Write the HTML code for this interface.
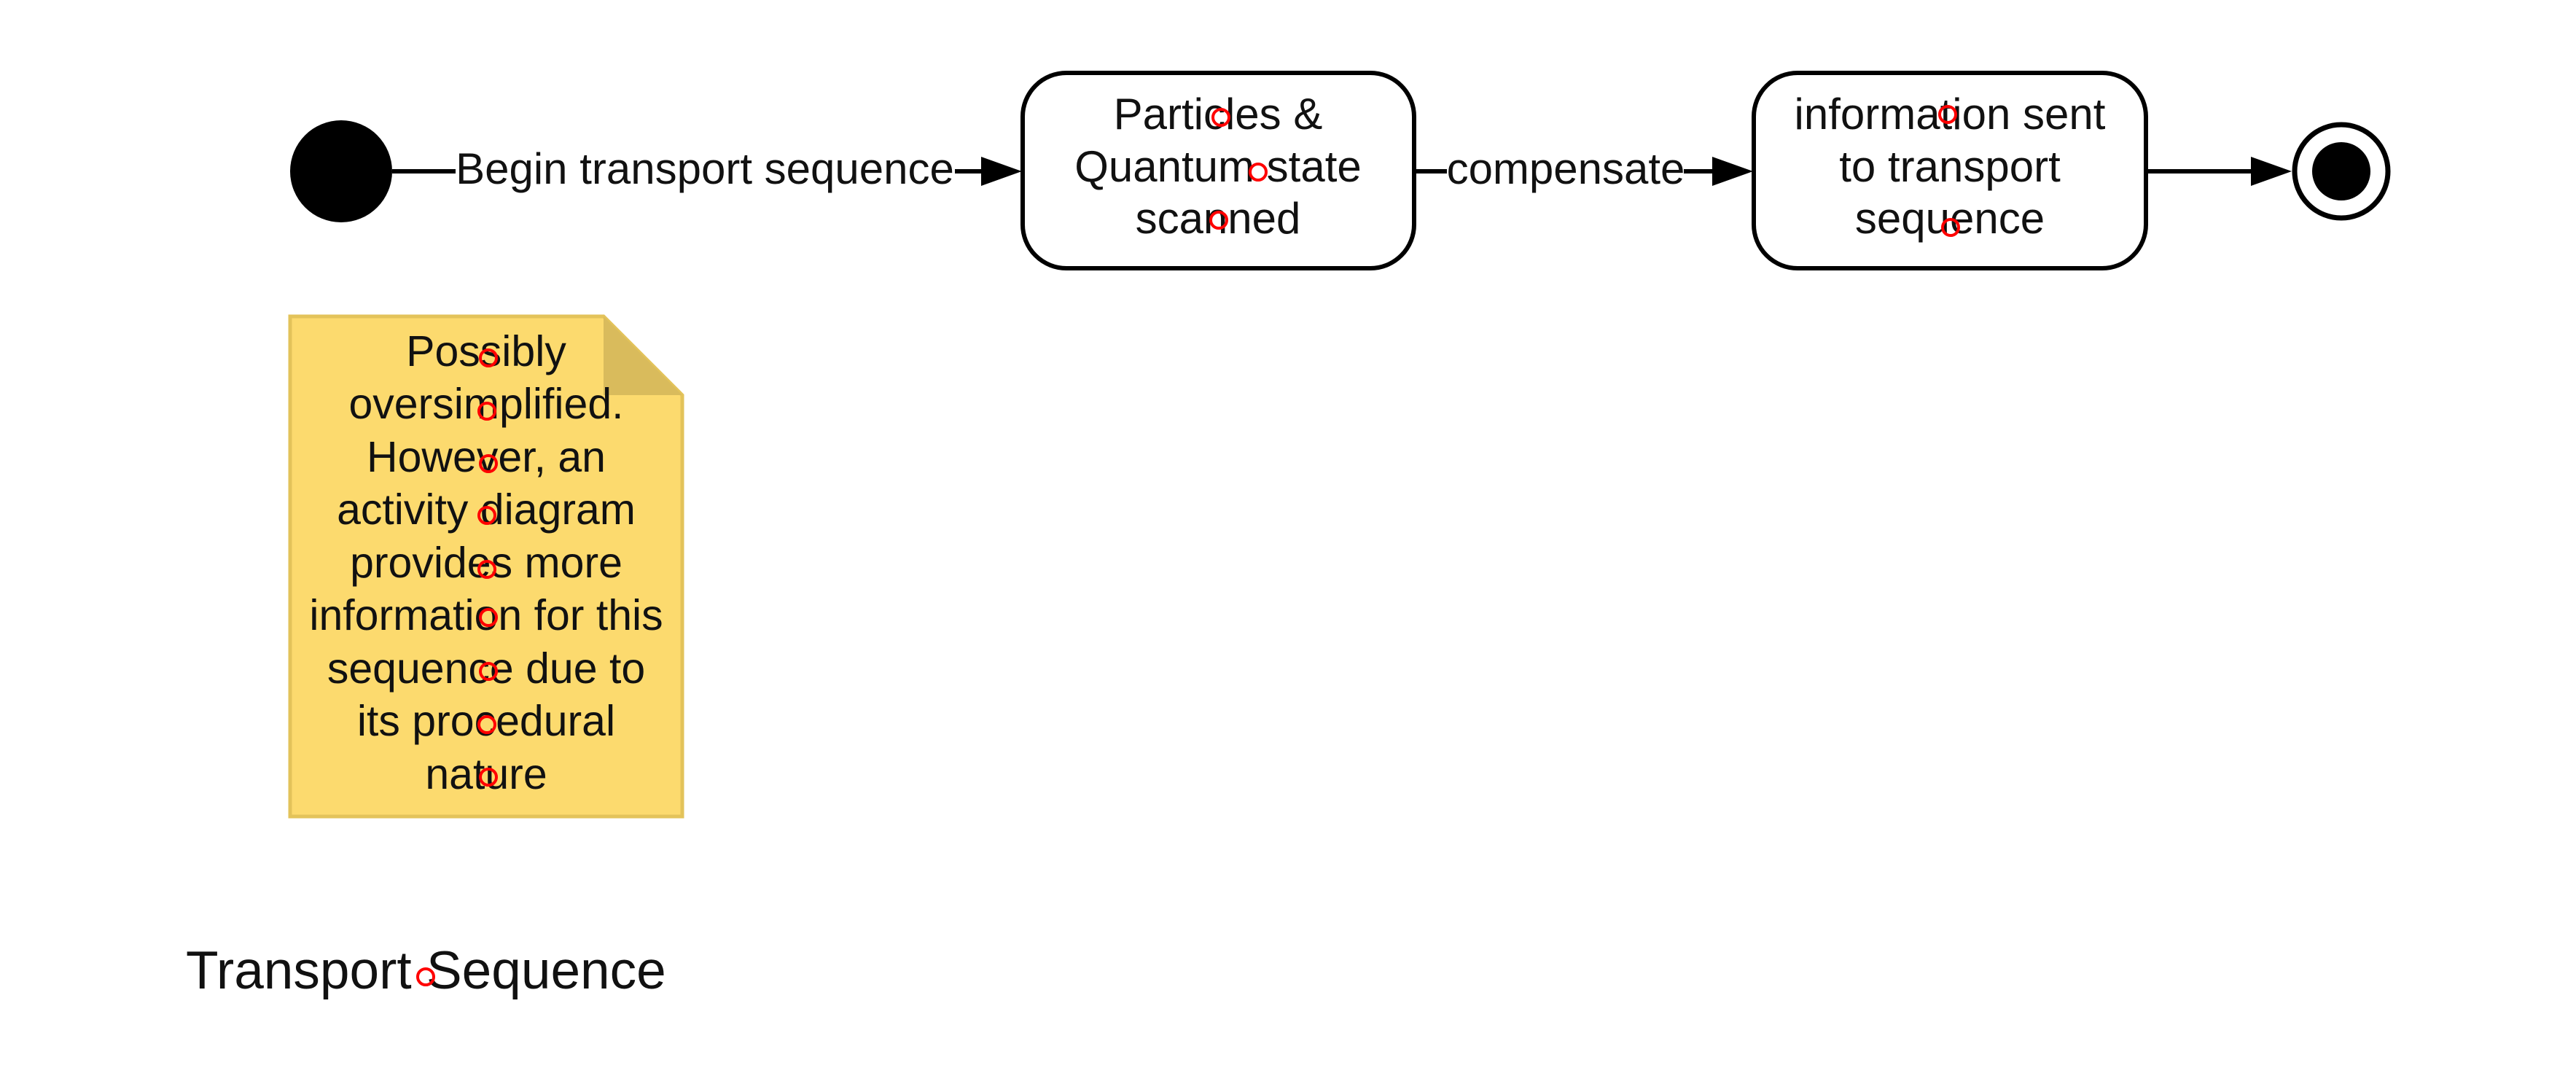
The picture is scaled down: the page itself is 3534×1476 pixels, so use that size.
<!DOCTYPE html>
<html><head><meta charset="utf-8"><style>
html,body{margin:0;padding:0;background:#fff;}
svg{display:block;}
text{font-family:"Liberation Sans",sans-serif;fill:#111;}
</style></head><body>
<svg width="3534" height="1476" viewBox="0 0 3534 1476">
<rect width="3534" height="1476" fill="#fff"/>

<circle cx="468" cy="235" r="70" fill="#000"/>

<g>
<line x1="538" y1="235" x2="625" y2="235" stroke="#000" stroke-width="6"/>
<line x1="1310" y1="235" x2="1350" y2="235" stroke="#000" stroke-width="6"/>
<path d="M1346,215 L1402,235 L1346,255 Z" fill="#000"/>
<text x="967" y="252" font-size="60" text-anchor="middle">Begin transport sequence</text>
</g>

<g>
<rect x="1403" y="100" width="537" height="268" rx="60" ry="60" fill="#fff" stroke="#000" stroke-width="6"/>
<text x="1671" y="177" font-size="60" text-anchor="middle">Particles &amp;</text>
<text x="1671" y="249" font-size="60" text-anchor="middle">Quantum state</text>
<text x="1671" y="320" font-size="60" text-anchor="middle">scanned</text>
</g>

<g>
<line x1="1940" y1="235" x2="1985" y2="235" stroke="#000" stroke-width="6"/>
<line x1="2310" y1="235" x2="2350" y2="235" stroke="#000" stroke-width="6"/>
<path d="M2349,215 L2405,235 L2349,255 Z" fill="#000"/>
<text x="2148" y="252" font-size="60" text-anchor="middle">compensate</text>
</g>

<g>
<rect x="2406" y="100" width="538" height="268" rx="60" ry="60" fill="#fff" stroke="#000" stroke-width="6"/>
<text x="2675" y="177" font-size="60" text-anchor="middle">information sent</text>
<text x="2675" y="249" font-size="60" text-anchor="middle">to transport</text>
<text x="2675" y="320" font-size="60" text-anchor="middle">sequence</text>
</g>

<g>
<line x1="2944" y1="235" x2="3100" y2="235" stroke="#000" stroke-width="6"/>
<path d="M3088,215 L3144,235 L3088,255 Z" fill="#000"/>
</g>

<g>
<circle cx="3212" cy="235" r="64" fill="#fff" stroke="#000" stroke-width="7"/>
<circle cx="3212" cy="235" r="40" fill="#000"/>
</g>

<g>
<path d="M398,434 L828,434 L936,542 L936,1120 L398,1120 Z" fill="#fcda6e" stroke="#e3c35a" stroke-width="5"/>
<path d="M828,434 L828,542 L936,542 Z" fill="#d9bb5c"/>
<g font-size="59" text-anchor="middle">
<text x="667" y="502">Possibly</text>
<text x="667" y="574">oversimplified.</text>
<text x="667" y="647">However, an</text>
<text x="667" y="719">activity diagram</text>
<text x="667" y="792">provides more</text>
<text x="667" y="864">information for this</text>
<text x="667" y="937">sequence due to</text>
<text x="667" y="1009">its procedural</text>
<text x="667" y="1082">nature</text>
</g>
</g>

<text x="255" y="1356" font-size="73" fill="#000">Transport Sequence</text>

<g fill="none" stroke="#f00" stroke-width="4">
<circle cx="1675" cy="161" r="11"/>
<circle cx="1726" cy="236" r="11"/>
<circle cx="1672" cy="302" r="11"/>
<circle cx="2672" cy="157" r="11"/>
<circle cx="2676" cy="312" r="11"/>
<circle cx="670" cy="491" r="11"/>
<circle cx="668" cy="564" r="11"/>
<circle cx="670" cy="636" r="11"/>
<circle cx="668" cy="707" r="11"/>
<circle cx="668" cy="781" r="11"/>
<circle cx="670" cy="847" r="11"/>
<circle cx="670" cy="921" r="11"/>
<circle cx="668" cy="994" r="11"/>
<circle cx="670" cy="1066" r="11"/>
<circle cx="584" cy="1340" r="11"/>
</g>
</svg>
</body></html>
